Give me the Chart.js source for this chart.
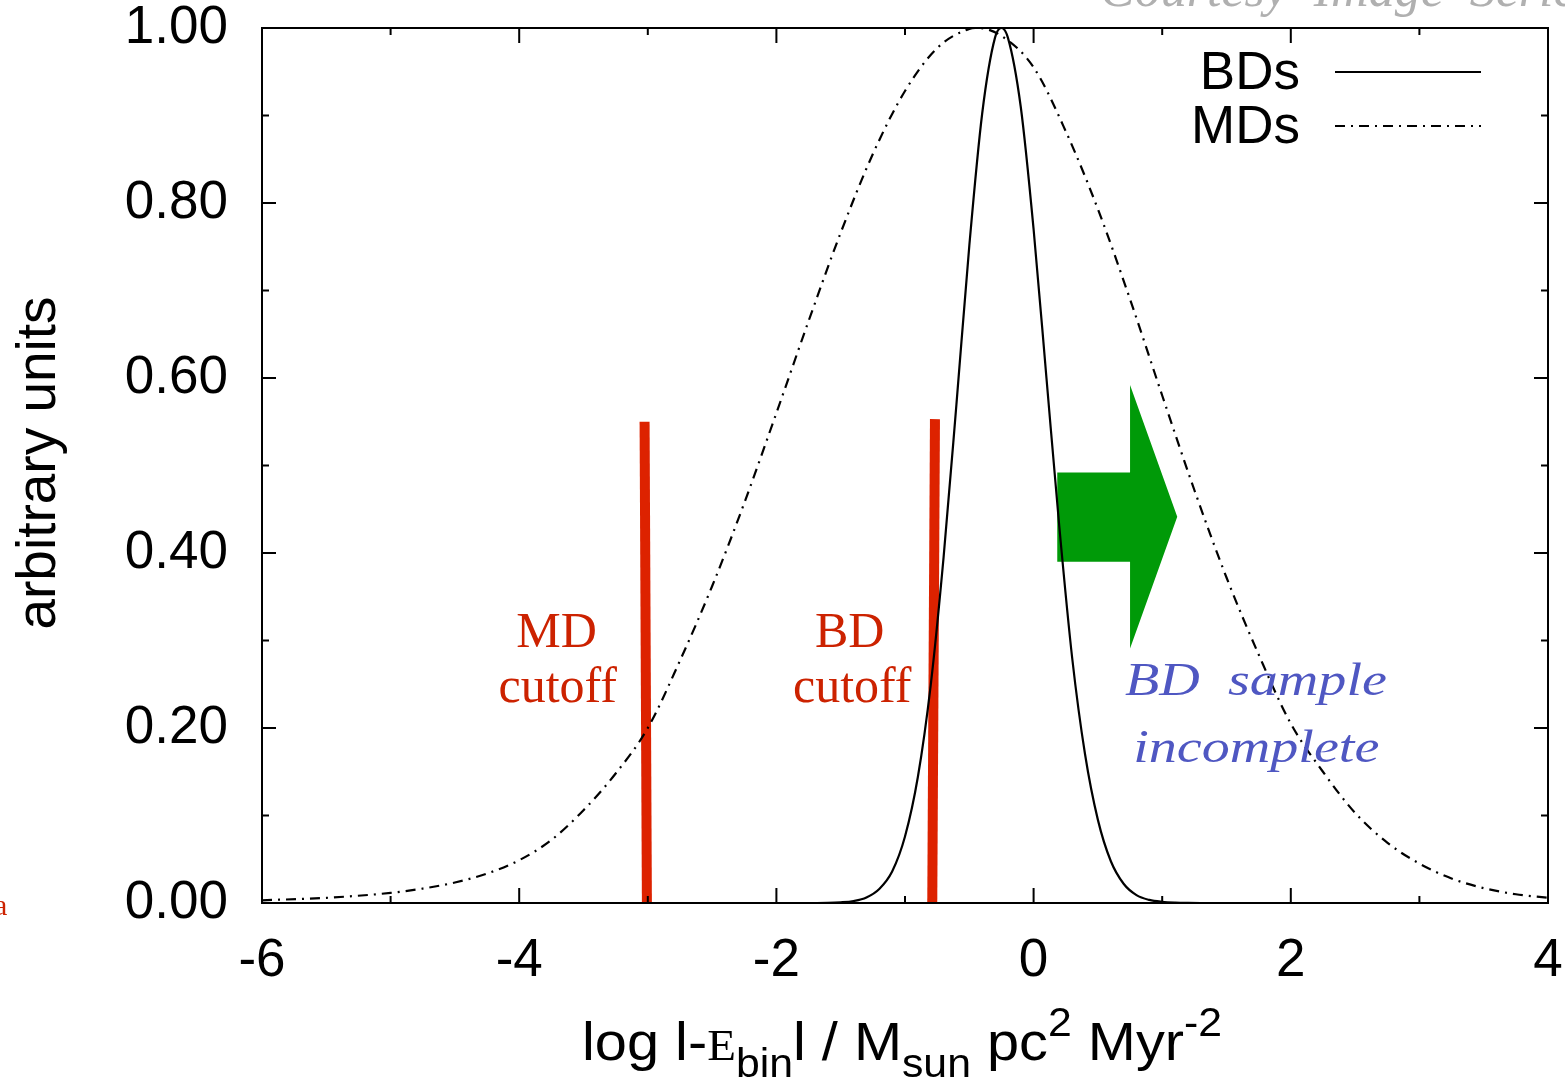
<!DOCTYPE html>
<html>
<head>
<meta charset="utf-8">
<script src="https://cdn.jsdelivr.net/npm/chart.js@4.4.1/dist/chart.umd.min.js"></script>
<style>
  html, body { margin: 0; padding: 0; background: #fff; }
</style>
</head>
<body>
<canvas id="chart" width="1565" height="1080"></canvas>
<script>
// log |E_bin| values and relative frequency
const bdX = [-2.0, -1.8, -1.6, -1.5, -1.4, -1.3, -1.2, -1.1, -1.0, -0.9, -0.8, -0.7, -0.6, -0.5, -0.4, -0.3, -0.25,
             -0.2, -0.1, 0.0, 0.1, 0.2, 0.3, 0.4, 0.5, 0.6, 0.7, 0.8, 0.9, 1.0, 1.1, 1.2, 1.4];
const bdY = [0, 0, 0.0002, 0.0008, 0.0023, 0.0063, 0.016, 0.036, 0.076, 0.144, 0.249, 0.395, 0.570, 0.751, 0.902, 0.989, 1.0,
             0.989, 0.910, 0.770, 0.600, 0.430, 0.280, 0.170, 0.095, 0.048, 0.022, 0.009, 0.0035, 0.0013, 0.0004, 0.0001, 0];

const mdX = [-6, -5.5, -5, -4.75, -4.5, -4.25, -4, -3.75, -3.5, -3.25, -3, -2.75, -2.5, -2.25, -2, -1.75, -1.5, -1.25, -1, -0.75, -0.5, -0.44,
             -0.25, 0, 0.25, 0.5, 0.75, 1, 1.25, 1.5, 1.75, 2, 2.25, 2.5, 2.75, 3, 3.25, 3.5, 3.75, 4];
const mdY = [0.0031, 0.0059, 0.0116, 0.0165, 0.0234, 0.0336, 0.0489, 0.072, 0.106, 0.148, 0.200, 0.277, 0.362, 0.457, 0.560, 0.665, 0.766, 0.856, 0.928, 0.977, 0.999, 1.0,
             0.991, 0.955, 0.882, 0.793, 0.690, 0.580, 0.472, 0.372, 0.284, 0.205, 0.150, 0.103, 0.069, 0.045, 0.028, 0.017, 0.010, 0.006];

// cutoff markers (x at top, x at bottom, height)
const mdCutX = [-3.025, -3.007];
const mdCutY = [0.55, 0];
const bdCutX = [-0.767, -0.788];
const bdCutY = [0.553, 0];

// "sample incomplete" arrow outline
const arrowX = [0.184, 0.75, 0.75, 1.117, 0.75, 0.75, 0.184];
const arrowY = [0.492, 0.492, 0.592, 0.4415, 0.291, 0.390, 0.390];

const xTickValues = [-6, -4, -2, 0, 2, 4];
const xTickLabels = ['-6', '-4', '-2', '0', '2', '4'];
const yTickValues = [0, 0.2, 0.4, 0.6, 0.8, 1.0];
const yTickLabels = ['0.00', '0.20', '0.40', '0.60', '0.80', '1.00'];

const SANS = '"Liberation Sans", Arial, sans-serif';
const SERIF = '"Liberation Serif", "Times New Roman", serif';

const pts = (xs, ys) => xs.map((x, i) => ({ x: x, y: ys[i] }));

const decor = {
  id: 'decor',
  afterDatasetsDraw(chart) {
    const { ctx, chartArea: a, scales: { x, y } } = chart;
    ctx.save();

    // frame + inward ticks on all sides
    ctx.strokeStyle = '#000';
    ctx.lineWidth = 2;
    ctx.strokeRect(a.left, a.top, a.right - a.left, a.bottom - a.top);
    ctx.beginPath();
    for (let v = -6; v <= 4; v++) {
      const px = x.getPixelForValue(v);
      const len = v % 2 === 0 ? 15 : 7;
      ctx.moveTo(px, a.bottom); ctx.lineTo(px, a.bottom - len);
      ctx.moveTo(px, a.top); ctx.lineTo(px, a.top + len);
    }
    for (let i = 0; i <= 10; i++) {
      const py = y.getPixelForValue(i / 10);
      const len = i % 2 === 0 ? 14 : 7;
      ctx.moveTo(a.left, py); ctx.lineTo(a.left + len, py);
      ctx.moveTo(a.right, py); ctx.lineTo(a.right - len, py);
    }
    ctx.stroke();

    // legend
    ctx.font = '53px ' + SANS;
    ctx.fillStyle = '#000';
    ctx.textAlign = 'right';
    ctx.textBaseline = 'middle';
    [[chart.data.datasets[0], 72], [chart.data.datasets[1], 126]].forEach(([ds, ly]) => {
      ctx.fillText(ds.label, 1300, ly + 2);
      ctx.beginPath();
      ctx.lineWidth = ds.borderWidth;
      ctx.setLineDash(ds.borderDash || []);
      ctx.moveTo(1335, ly);
      ctx.lineTo(1481, ly);
      ctx.stroke();
    });
    ctx.setLineDash([]);

    // cutoff labels
    ctx.fillStyle = '#cc2200';
    ctx.font = '50px ' + SERIF;
    ctx.textAlign = 'center';
    ctx.textBaseline = 'alphabetic';
    ctx.fillText('MD', x.getPixelForValue(-3.71), y.getPixelForValue(0.293));
    ctx.fillText('cutoff', x.getPixelForValue(-3.70), y.getPixelForValue(0.230));
    ctx.fillText('BD', x.getPixelForValue(-1.43), y.getPixelForValue(0.293));
    ctx.fillText('cutoff', x.getPixelForValue(-1.41), y.getPixelForValue(0.230));

    // sample incomplete note
    ctx.fillStyle = '#4f57c2';
    ctx.font = 'italic 46px ' + SERIF;
    ctx.textAlign = 'left';
    [['BD  sample', 0.711, 0.238], ['incomplete', 0.774, 0.161]].forEach(([t, tx, ty]) => {
      ctx.save();
      ctx.translate(x.getPixelForValue(tx), y.getPixelForValue(ty));
      ctx.scale(1.22, 1);
      ctx.fillText(t, 0, 0);
      ctx.restore();
    });
    ctx.restore();
  },
  afterDraw(chart) {
    const { ctx } = chart;
    ctx.save();
    ctx.fillStyle = '#000';
    ctx.textBaseline = 'alphabetic';

    // y axis title
    ctx.save();
    ctx.translate(55, 463);
    ctx.rotate(-Math.PI / 2);
    ctx.textAlign = 'center';
    ctx.font = '55px ' + SANS;
    ctx.fillText('arbitrary units', 0, 0);
    ctx.restore();

    // x axis title with sub/superscripts
    const big = '54px ' + SANS, small = '40px ' + SANS;
    const parts = [
      ['log l-', big, 0], ['E', '44px ' + SERIF, 0], ['bin', small, 17], ['l / M', big, 0],
      ['sun', small, 17], [' pc', big, 0], ['2', small, -24], [' Myr', big, 0], ['-2', small, -24]
    ];
    let w = 0;
    parts.forEach(p => { ctx.font = p[1]; w += ctx.measureText(p[0]).width; });
    const target = 640;
    ctx.translate(582, 1060);
    ctx.scale(target / w, 1);
    let cx = 0;
    ctx.textAlign = 'left';
    parts.forEach(p => {
      ctx.font = p[1];
      ctx.fillText(p[0], cx, p[2]);
      cx += ctx.measureText(p[0]).width;
    });
    ctx.restore();

    // stray fragments at the page edges
    ctx.save();
    ctx.fillStyle = '#b0b0b0';
    ctx.font = 'italic 52px ' + SERIF;
    ctx.fillText('Courtesy  Image  Series', 1100, 6);
    ctx.fillStyle = '#cc2200';
    ctx.font = '30px ' + SERIF;
    ctx.fillText('a', -6, 915);
    ctx.restore();
  }
};

new Chart(document.getElementById('chart'), {
  type: 'line',
  data: {
    datasets: [
      {
        label: 'BDs',
        data: pts(bdX, bdY),
        borderColor: '#000',
        borderWidth: 2.2,
        pointRadius: 0,
        cubicInterpolationMode: 'monotone',
        fill: false
      },
      {
        label: 'MDs',
        data: pts(mdX, mdY),
        borderColor: '#000',
        borderWidth: 2.2,
        borderDash: [10, 6, 2, 6],
        pointRadius: 0,
        cubicInterpolationMode: 'monotone',
        fill: false
      },
      {
        label: 'MD cutoff',
        data: pts(mdCutX, mdCutY),
        borderColor: '#dd2200',
        borderWidth: 10,
        borderCapStyle: 'butt',
        pointRadius: 0,
        fill: false
      },
      {
        label: 'BD cutoff',
        data: pts(bdCutX, bdCutY),
        borderColor: '#dd2200',
        borderWidth: 10,
        borderCapStyle: 'butt',
        pointRadius: 0,
        fill: false
      },
      {
        label: 'incomplete',
        data: pts(arrowX, arrowY),
        borderColor: '#009a08',
        borderWidth: 0,
        backgroundColor: '#009a08',
        pointRadius: 0,
        fill: 'shape'
      }
    ]
  },
  options: {
    responsive: false,
    animation: false,
    layout: { padding: { top: 28, right: 17, left: 0, bottom: 0 } },
    plugins: {
      legend: { display: false },
      tooltip: { enabled: false }
    },
    scales: {
      x: {
        type: 'linear',
        min: -6,
        max: 4,
        grid: { display: false, drawTicks: false },
        border: { display: false },
        ticks: {
          stepSize: 2,
          padding: 27,
          color: '#000',
          font: { family: SANS, size: 53 },
          maxRotation: 0,
          callback: v => {
            const i = xTickValues.findIndex(t => Math.abs(t - v) < 1e-6);
            return i >= 0 ? xTickLabels[i] : '';
          }
        },
        afterFit: s => { s.height = 177; s.paddingLeft = 0; s.paddingRight = 0; }
      },
      y: {
        min: 0,
        max: 1,
        grid: { display: false, drawTicks: false },
        border: { display: false },
        ticks: {
          stepSize: 0.2,
          padding: 34,
          color: '#000',
          font: { family: SANS, size: 53 },
          callback: v => {
            const i = yTickValues.findIndex(t => Math.abs(t - v) < 1e-6);
            return i >= 0 ? yTickLabels[i] : '';
          }
        },
        afterFit: s => { s.width = 262; s.paddingTop = 0; s.paddingBottom = 0; }
      }
    }
  },
  plugins: [decor]
});
</script>
</body>
</html>
